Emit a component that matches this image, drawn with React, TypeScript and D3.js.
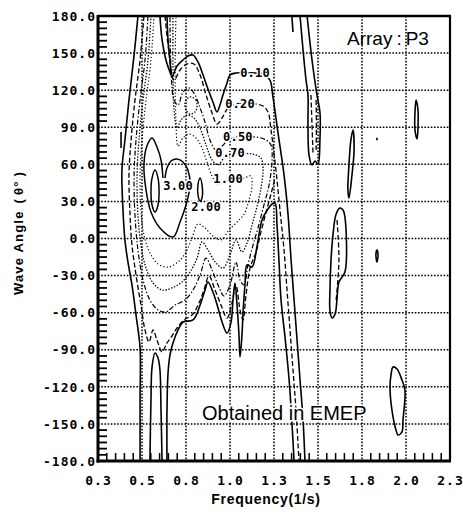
import React from "react";
import * as d3 from "d3";

// ---------- axis data ----------
const FREQ_TICKS = [0.3, 0.55, 0.8, 1.05, 1.3, 1.55, 1.8, 2.05, 2.3];
const FREQ_LABELS = ["0.3", "0.5", "0.8", "1.0", "1.3", "1.5", "1.8", "2.0", "2.3"];
const ANGLE_TICKS = [180, 150, 120, 90, 60, 30, 0, -30, -60, -90, -120, -150, -180];
const ANGLE_LABELS = ["180.0", "150.0", "120.0", "90.0", "60.0", "30.0", "0.0", "-30.0", "-60.0", "-90.0", "-120.0", "-150.0", "-180.0"];

// ---------- contour lines [frequency, angle] ----------
const C010_LEFT = [[0.527,180],[0.505,148.4],[0.476,112.0],[0.453,79.7],[0.436,55.4],[0.442,23.1],[0.453,-1.2],[0.470,-19.0],[0.493,-37.6],[0.516,-61.9],[0.539,-88.6],[0.539,-130.6],[0.539,-180]];
const C010_ARCH = [[0.595,-180],[0.601,-130.6],[0.607,-104.0],[0.624,-92.6],[0.641,-96.7],[0.652,-106.4],[0.658,-138.7],[0.664,-180]];
const C010_LOWER = [[0.692,-180],[0.692,-138.7],[0.698,-108.8],[0.709,-94.2],[0.726,-84.5],[0.755,-74.0],[0.783,-67.6],[0.840,-65.9],[0.880,-53.8],[0.908,-41.7],[0.925,-35.2],[0.953,-43.3],[0.982,-56.2],[1.005,-67.6],[1.033,-76.5],[1.056,-67.6],[1.067,-49.8],[1.078,-36.0],[1.090,-53.8],[1.101,-78.1],[1.107,-95.9],[1.118,-78.1],[1.124,-60.3],[1.135,-37.6],[1.147,-21.4],[1.175,-23.1],[1.203,-6.9],[1.232,15.0],[1.266,23.9],[1.289,27.9],[1.306,28.7],[1.317,10.9],[1.328,-17.4],[1.340,-49.8],[1.363,-80.5],[1.386,-114.5],[1.402,-149.2],[1.414,-180]];
const C010_RIGHT = [[0.692,180],[0.698,160.6],[0.709,144.4],[0.720,130.7],[0.749,139.5],[0.783,144.4],[0.811,147.6],[0.840,148.4],[0.868,142.8],[0.897,132.3],[0.925,120.9],[0.953,110.4],[0.976,102.3],[0.993,108.0],[1.010,116.1],[1.033,125.8],[1.050,132.3],[1.084,133.9],[1.135,133.9],[1.192,133.9],[1.238,133.1],[1.277,128.2],[1.294,114.5],[1.323,85.3],[1.357,51.4],[1.380,19.0],[1.397,-17.4],[1.414,-49.8],[1.431,-82.1],[1.448,-114.5],[1.465,-146.8],[1.476,-180]];
const C010_WEDGE = [[0.652,180],[0.664,160.6],[0.686,144.4],[0.715,132.3]];
const C010_ISLAND = [[1.448,180],[1.465,152.5],[1.482,128.2],[1.493,116.1],[1.493,91.8],[1.499,67.5],[1.516,59.5],[1.533,62.7],[1.550,60.3],[1.561,79.7],[1.561,102.3],[1.544,116.1],[1.516,144.4],[1.488,180]];
const C010_TOPSEG = [[1.402,179.2],[1.408,167.1]];
const C010_SLIVER = [[1.749,87.8],[1.755,71.6],[1.743,51.4],[1.726,32.8],[1.720,39.2],[1.726,59.5],[1.737,79.7]];
const C010_BLOB = [[1.675,24.7],[1.692,23.1],[1.703,17.4],[1.703,-27.1],[1.669,-35.2],[1.658,-49.0],[1.647,-61.1],[1.630,-64.3],[1.618,-58.6],[1.618,-41.7],[1.624,-17.4],[1.635,2.8],[1.653,19.8]];
const C010_ELL1 = [[2.107,112.0],[2.118,104.0],[2.118,89.4],[2.113,80.5],[2.101,87.8],[2.101,102.3]];
const C010_ELL2 = [[1.885,-9.3],[1.891,-13.0],[1.885,-19.0],[1.879,-13.0]];
const C010_DOT = [[1.885,81.5],[1.885,79.5]];
const C010_ELL3 = [[1.976,-104.0],[1.999,-105.6],[2.027,-114.5],[2.044,-122.6],[2.033,-146.8],[2.027,-156.5],[2.005,-159.0],[1.993,-154.9],[1.970,-138.7],[1.959,-120.1],[1.965,-110.4]];
const C010_LEFTSEG = [[0.431,86.2],[0.431,73.2]];

const C020_LOWER = [[0.561,180],[0.539,144.4],[0.510,112.0],[0.488,79.7],[0.476,51.4],[0.482,19.0],[0.493,-5.3],[0.516,-29.5],[0.544,-53.8],[0.567,-74.0],[0.590,-83.7],[0.613,-74.0],[0.635,-82.1],[0.664,-91.8],[0.692,-84.5],[0.720,-78.9],[0.749,-72.4],[0.789,-65.9],[0.834,-61.9],[0.874,-52.2],[0.902,-41.7],[0.931,-30.3],[0.965,-41.7],[0.999,-53.8],[1.033,-64.3],[1.061,-52.2],[1.084,-37.6],[1.107,-57.8],[1.124,-65.9],[1.141,-45.7],[1.164,-23.9],[1.198,-10.9],[1.226,5.3],[1.255,21.4],[1.283,36.0],[1.306,48.9]];
const C020_UPPER = [[0.681,180],[0.698,156.5],[0.732,128.2],[0.766,136.3],[0.806,141.2],[0.845,141.2],[0.880,132.3],[0.914,116.1],[0.948,101.5],[0.976,92.6],[1.005,97.5],[1.039,105.6],[1.084,108.8],[1.141,109.6],[1.198,108.8],[1.238,107.2],[1.266,102.3],[1.283,87.8],[1.311,55.4],[1.334,23.1],[1.357,-9.3],[1.374,-41.7],[1.391,-74.0],[1.408,-106.4],[1.425,-138.7],[1.442,-180]];
const C020_ISLAND = [[1.510,116.1],[1.516,92.0],[1.522,67.5]];
const C020_ISLAND2 = [[1.539,112.0],[1.541,90.0],[1.539,71.6]];
const C020_BLOB = [[1.658,15.0],[1.669,-17.4],[1.653,-49.8]];

const C050 = [[0.584,180],[0.567,144.4],[0.539,112.0],[0.516,79.7],[0.505,51.4],[0.510,19.0],[0.527,-9.3],[0.556,-33.6],[0.595,-49.8],[0.641,-57.8],[0.686,-59.5],[0.738,-53.8],[0.794,-49.8],[0.840,-41.7],[0.880,-29.5],[0.914,-15.8],[0.948,-25.5],[0.982,-37.6],[1.016,-46.5],[1.050,-37.6],[1.084,-19.0],[1.107,-33.6],[1.130,-37.6],[1.152,-21.4],[1.181,-5.3],[1.209,8.5],[1.243,27.1],[1.272,43.3],[1.289,63.5],[1.283,75.6],[1.255,79.7],[1.198,82.1],[1.141,82.1],[1.084,82.1],[1.039,79.7],[1.005,74.8],[0.970,71.6],[0.936,79.7],[0.908,94.2],[0.880,105.6],[0.851,116.1],[0.817,121.8],[0.783,118.5],[0.755,108.0],[0.732,112.0],[0.715,136.3],[0.709,180]];

const C070 = [[0.601,180],[0.584,144.4],[0.556,112.0],[0.533,79.7],[0.522,51.4],[0.527,19.0],[0.544,-5.3],[0.573,-23.9],[0.613,-36.0],[0.664,-41.7],[0.720,-40.0],[0.777,-35.2],[0.823,-27.1],[0.863,-15.8],[0.891,-2.8],[0.925,-9.3],[0.965,-19.0],[1.010,-23.9],[1.050,-13.3],[1.084,-1.2],[1.118,-10.9],[1.147,-3.6],[1.175,10.9],[1.203,25.5],[1.226,40.9],[1.238,55.4],[1.226,65.1],[1.175,68.4],[1.118,68.4],[1.061,68.4],[1.016,65.1],[0.982,59.5],[0.948,63.5],[0.914,75.6],[0.880,89.4],[0.845,97.5],[0.806,99.9],[0.772,95.9],[0.749,89.4],[0.732,104.0],[0.726,136.3],[0.726,180]];
const C070_RING = [[0.828,114.5],[0.857,112.0],[0.863,107.2],[0.851,102.3],[0.823,100.7],[0.800,104.0],[0.794,109.6],[0.811,113.7]];

const C100 = [[0.618,180],[0.601,144.4],[0.573,112.0],[0.550,79.7],[0.539,51.4],[0.544,23.1],[0.561,2.8],[0.595,-11.7],[0.641,-20.6],[0.698,-23.1],[0.755,-19.0],[0.800,-10.9],[0.834,0.4],[0.868,11.7],[0.908,8.5],[0.953,2.0],[0.999,-1.2],[1.044,6.9],[1.090,13.3],[1.130,19.8],[1.158,31.1],[1.175,42.5],[1.169,50.6],[1.130,48.9],[1.084,48.1],[1.027,46.5],[0.982,44.1],[0.948,50.6],[0.919,61.9],[0.891,73.2],[0.857,81.3],[0.817,84.5],[0.783,81.3],[0.755,74.8],[0.743,95.9],[0.738,136.3],[0.743,180]];

const C200 = [[0.669,48.9],[0.658,63.5],[0.635,74.0],[0.607,81.3],[0.578,74.8],[0.561,59.5],[0.573,39.2],[0.601,21.4],[0.652,8.5],[0.726,1.2],[0.766,13.3],[0.800,27.1],[0.823,43.3],[0.811,55.4],[0.783,61.9],[0.749,64.3],[0.715,62.7],[0.692,57.0],[0.681,48.9]];
const C200_SMALL = [[0.880,48.9],[0.891,43.3],[0.891,32.8],[0.880,30.3],[0.868,35.2],[0.868,43.3]];
const C300 = [[0.624,55.4],[0.641,48.9],[0.647,37.6],[0.641,27.1],[0.624,21.4],[0.607,27.1],[0.601,37.6],[0.607,48.9]];

// which level each piece belongs to, and whether it closes on itself
const CONTOURS = [
  { level: "0.10", pts: C010_LEFT, closed: false },
  { level: "0.10", pts: C010_ARCH, closed: false },
  { level: "0.10", pts: C010_LOWER, closed: false },
  { level: "0.10", pts: C010_RIGHT, closed: false },
  { level: "0.10", pts: C010_WEDGE, closed: false },
  { level: "0.10", pts: C010_ISLAND, closed: false },
  { level: "0.10", pts: C010_TOPSEG, closed: false },
  { level: "0.10", pts: C010_SLIVER, closed: true },
  { level: "0.10", pts: C010_BLOB, closed: true },
  { level: "0.10", pts: C010_ELL1, closed: true },
  { level: "0.10", pts: C010_ELL2, closed: true },
  { level: "0.10", pts: C010_DOT, closed: false },
  { level: "0.10", pts: C010_ELL3, closed: true },
  { level: "0.10", pts: C010_LEFTSEG, closed: false },
  { level: "0.20", pts: C020_LOWER, closed: false },
  { level: "0.20", pts: C020_UPPER, closed: false },
  { level: "0.20", pts: C020_ISLAND, closed: false },
  { level: "0.20", pts: C020_ISLAND2, closed: false },
  { level: "0.20", pts: C020_BLOB, closed: false },
  { level: "0.50", pts: C050, closed: false },
  { level: "0.70", pts: C070, closed: false },
  { level: "0.70", pts: C070_RING, closed: true },
  { level: "1.00", pts: C100, closed: false },
  { level: "2.00", pts: C200, closed: false },
  { level: "2.00", pts: C200_SMALL, closed: true },
  { level: "3.00", pts: C300, closed: true },
];

const LABEL_TEXT = ["0.10", "0.20", "0.50", "0.70", "1.00", "3.00", "2.00"];
const LABEL_POS = [[1.192,133.9],[1.107,108.8],[1.095,82.1],[1.050,69.2],[1.039,48.1],[0.755,42.5],[0.914,25.5]];

const STYLE: Record<string, { w: number; dash?: string }> = {
  "0.10": { w: 1.6 },
  "0.20": { w: 1.3, dash: "5,2.5" },
  "0.50": { w: 1.2, dash: "5,2,1.4,2" },
  "0.70": { w: 1.3, dash: "1.4,1.6" },
  "1.00": { w: 1.2, dash: "1.2,2.2" },
  "2.00": { w: 1.5 },
  "3.00": { w: 1.5 },
};

const W = 463, H = 514;
const L = 98, R = 450, T = 16, B = 461;

export default function App() {
  const x = d3.scaleLinear().domain([0.3, 2.3]).range([L, R]);
  const y = d3.scaleLinear().domain([-180, 180]).range([B, T]);
  const openLine = d3.line<number[]>().x(d => x(d[0])).y(d => y(d[1])).curve(d3.curveCatmullRom.alpha(0.5));
  const closedLine = d3.line<number[]>().x(d => x(d[0])).y(d => y(d[1])).curve(d3.curveCatmullRomClosed.alpha(0.5));

  const minorY = d3.range(-175, 180, 5).filter(v => v % 30 !== 0);
  const minorX = d3.range(0, 41).map(i => 0.3 + i * 0.05).filter(v => Math.abs(((v - 0.3) / 0.25) - Math.round((v - 0.3) / 0.25)) > 1e-6);

  const mono = "'DejaVu Sans Mono', 'Liberation Mono', monospace";
  const sans = "'Liberation Sans', Arial, sans-serif";

  return (
    <svg width={W} height={H} style={{ position: "absolute", left: 0, top: 0, background: "#fff" }}>
      <defs>
        <clipPath id="plotclip">
          <rect x={L} y={T} width={R - L} height={B - T} />
        </clipPath>
      </defs>
      <rect x={0} y={0} width={W} height={H} fill="#fff" />

      {/* grid */}
      <g stroke="#000" strokeWidth={1.5} strokeDasharray="1.6,1.6">
        {ANGLE_TICKS.filter(v => v !== 180 && v !== -180).map(v => (
          <line key={"gy" + v} x1={L} x2={R} y1={y(v)} y2={y(v)} />
        ))}
        {FREQ_TICKS.filter((v, i) => i > 0 && i < FREQ_TICKS.length - 1).map(v => (
          <line key={"gx" + v} x1={x(v)} x2={x(v)} y1={T} y2={B} />
        ))}
      </g>

      {/* contours */}
      <g clipPath="url(#plotclip)" fill="none" stroke="#000" strokeLinejoin="round">
        {CONTOURS.map((c, i) => {
          const s = STYLE[c.level];
          return (
            <path key={"c" + i} d={(c.closed ? closedLine : openLine)(c.pts) || ""}
              strokeWidth={s.w} strokeDasharray={s.dash} />
          );
        })}
      </g>

      {/* contour labels */}
      <g fontFamily={mono} fontSize={12} textAnchor="middle" fontWeight="bold">
        {LABEL_TEXT.map((t, i) => (
          <text key={"l" + i} x={x(LABEL_POS[i][0])} y={y(LABEL_POS[i][1])} dy="0.36em"
            stroke="#fff" strokeWidth={3} paintOrder="stroke" fill="#000" letterSpacing={0.2}>{t}</text>
        ))}
      </g>

      {/* minor ticks */}
      <g stroke="#000">
        {minorY.map(v => (
          <line key={"my" + v} x1={L} x2={L + 9} y1={y(v)} y2={y(v)} strokeWidth={1.8} />
        ))}
        {minorX.map(v => (
          <line key={"mx" + v.toFixed(2)} x1={x(v)} x2={x(v)} y1={B} y2={B - 8} strokeWidth={1.5} />
        ))}
      </g>

      {/* frame */}
      <g stroke="#000">
        <line x1={L} x2={R + 1} y1={T} y2={T} strokeWidth={2.5} />
        <line x1={R} x2={R} y1={T} y2={B} strokeWidth={2.2} />
        <line x1={L - 1.5} x2={R + 1} y1={B} y2={B} strokeWidth={3} />
        <line x1={L} x2={L} y1={T - 1} y2={B + 1.5} strokeWidth={3} />
      </g>

      {/* tick labels */}
      <g fontFamily={mono} fontSize={13} fontWeight="bold" fill="#000" letterSpacing={1}>
        {ANGLE_TICKS.map((v, i) => (
          <text key={"ty" + v} x={L - 2} y={y(v)} dy="0.36em" textAnchor="end">{ANGLE_LABELS[i]}</text>
        ))}
        {FREQ_TICKS.map((v, i) => (
          <text key={"tx" + v} x={x(v) + 0.5} y={485} textAnchor="middle">{FREQ_LABELS[i]}</text>
        ))}
      </g>

      {/* axis titles */}
      <text x={266} y={504} textAnchor="middle" fontFamily={sans} fontSize={14} fontWeight="bold" letterSpacing={0.7}>Frequency(1/s)</text>
      <text transform="translate(23,233) rotate(-90)" textAnchor="middle" fontFamily={sans} fontSize={13} fontWeight="bold" letterSpacing={1.2}>
        Wave Angle <tspan dx={2}>(</tspan><tspan dx={3}>θ°</tspan><tspan dx={4}>)</tspan>
      </text>

      {/* annotations */}
      <text x={347} y={45} fontFamily={sans} fontSize={19} fill="#000">
        Array<tspan dx={4}>:</tspan><tspan dx={4}>P3</tspan>
      </text>
      <text x={202} y={420} fontFamily={sans} fontSize={20} fill="#000" stroke="#fff" strokeWidth={3} paintOrder="stroke">Obtained in EMEP</text>
    </svg>
  );
}
